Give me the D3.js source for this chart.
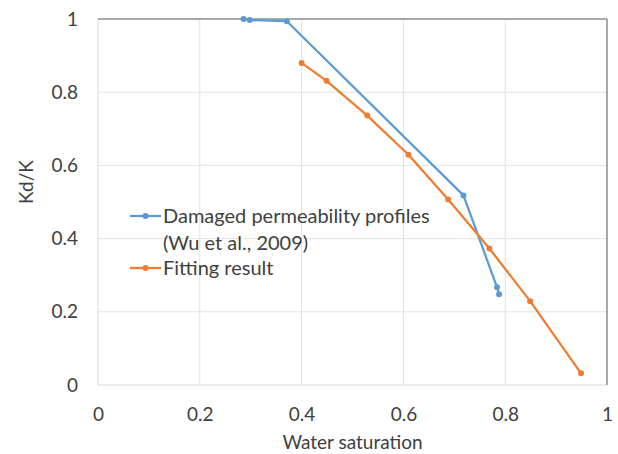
<!DOCTYPE html>
<html>
<head>
<meta charset="utf-8">
<script src="https://cdn.jsdelivr.net/npm/d3@7"></script>
<style>
  body { margin: 0; background: #fff; }
  text { font-family: Lato, "Open Sans", sans-serif; fill: #404040; }
</style>
</head>
<body>
<svg id="chart" width="618" height="454"></svg>
<script>
// Damaged permeability profiles (Wu et al., 2009)
var damagedSw = [0.286, 0.298, 0.371, 0.718, 0.784, 0.788];
var damagedK = [1.0, 0.997, 0.994, 0.518, 0.267, 0.248];
// Fitting result
var fitSw = [0.40, 0.449, 0.529, 0.61, 0.688, 0.769, 0.849, 0.949];
var fitK = [0.88, 0.831, 0.736, 0.629, 0.507, 0.373, 0.229, 0.032];

var xTicks = [0, 0.2, 0.4, 0.6, 0.8, 1];
var yTicks = [0, 0.2, 0.4, 0.6, 0.8, 1];

var series = [
  { name: "Damaged permeability profiles", name2: "(Wu et al., 2009)", color: "#5b9bd5",
    values: damagedSw.map((d, i) => ({ x: d, y: damagedK[i] })) },
  { name: "Fitting result", color: "#ed7d31",
    values: fitSw.map((d, i) => ({ x: d, y: fitK[i] })) }
];

var svg = d3.select("#chart");
var margin = { left: 98, right: 11, top: 19, bottom: 69 };
var W = 618, H = 454;

var x = d3.scaleLinear().domain([0, 1]).range([margin.left, W - margin.right]);
var y = d3.scaleLinear().domain([0, 1]).range([H - margin.bottom, margin.top]);

// gridlines
svg.append("g").selectAll("line.vg")
  .data(xTicks.slice(1, -1))
  .join("line")
  .attr("x1", d => x(d)).attr("x2", d => x(d))
  .attr("y1", y(0)).attr("y2", y(1))
  .attr("stroke", "#e3e3e3").attr("stroke-width", 1);

svg.append("g").selectAll("line.hg")
  .data(yTicks.slice(1, -1))
  .join("line")
  .attr("x1", x(0)).attr("x2", x(1))
  .attr("y1", d => y(d)).attr("y2", d => y(d))
  .attr("stroke", "#e3e3e3").attr("stroke-width", 1);

// frame: light left/bottom, darker top/right
svg.append("line").attr("x1", x(0)).attr("x2", x(0)).attr("y1", y(0)).attr("y2", y(1))
  .attr("stroke", "#d9d9d9");
svg.append("line").attr("x1", x(0)).attr("x2", x(1)).attr("y1", y(0)).attr("y2", y(0))
  .attr("stroke", "#d9d9d9");
svg.append("line").attr("x1", x(0)).attr("x2", x(1)).attr("y1", y(1)).attr("y2", y(1))
  .attr("stroke", "#8c8c8c").attr("stroke-width", 1.5);
svg.append("line").attr("x1", x(1)).attr("x2", x(1)).attr("y1", y(1)).attr("y2", y(0))
  .attr("stroke", "#8c8c8c").attr("stroke-width", 1.5);

// axes (tick labels only)
var xAxis = svg.append("g")
  .attr("transform", "translate(0," + y(0) + ")")
  .call(d3.axisBottom(x).tickValues(xTicks).tickSize(0).tickPadding(23).tickFormat(d3.format("")));
var yAxis = svg.append("g")
  .attr("transform", "translate(" + x(0) + ",0)")
  .call(d3.axisLeft(y).tickValues(yTicks).tickSize(0).tickPadding(20).tickFormat(d3.format("")));
[xAxis, yAxis].forEach(function (a) {
  a.select(".domain").remove();
  a.selectAll("text").style("font-size", "19px").attr("fill", "#404040")
    .style("font-family", "Lato, 'Open Sans', sans-serif");
});

// axis titles
svg.append("text")
  .attr("x", (x(0) + x(1)) / 2).attr("y", 442).attr("dy", "0.35em")
  .attr("text-anchor", "middle").style("font-size", "19px")
  .text("Water saturation");
svg.append("text")
  .attr("transform", "translate(33," + ((y(0) + y(1)) / 2 - 20) + ") rotate(-90)")
  .attr("text-anchor", "middle").style("font-size", "19px")
  .text("Kd/K");

// lines and markers
var line = d3.line().x(d => x(d.x)).y(d => y(d.y));
series.forEach(function (s) {
  svg.append("path")
    .datum(s.values)
    .attr("d", line)
    .attr("fill", "none")
    .attr("stroke", s.color)
    .attr("stroke-width", 2.25)
    .attr("stroke-linejoin", "round");
  svg.append("g").selectAll("circle")
    .data(s.values)
    .join("circle")
    .attr("cx", d => x(d.x)).attr("cy", d => y(d.y))
    .attr("r", 3)
    .attr("fill", s.color);
});

// legend
var legend = svg.append("g");
var legY = [216, 268];
series.forEach(function (s, i) {
  var g = legend.append("g").attr("transform", "translate(130," + legY[i] + ")");
  g.append("line").attr("x1", 0).attr("x2", 31).attr("stroke", s.color).attr("stroke-width", 2.25);
  g.append("circle").attr("cx", 15.5).attr("r", 3).attr("fill", s.color);
  g.append("text").attr("x", 33).attr("dy", "0.35em").style("font-size", "20px").text(s.name);
  if (s.name2) {
    g.append("text").attr("x", 33).attr("y", 27).attr("dy", "0.35em").style("font-size", "20px").text(s.name2);
  }
});
</script>
</body>
</html>
